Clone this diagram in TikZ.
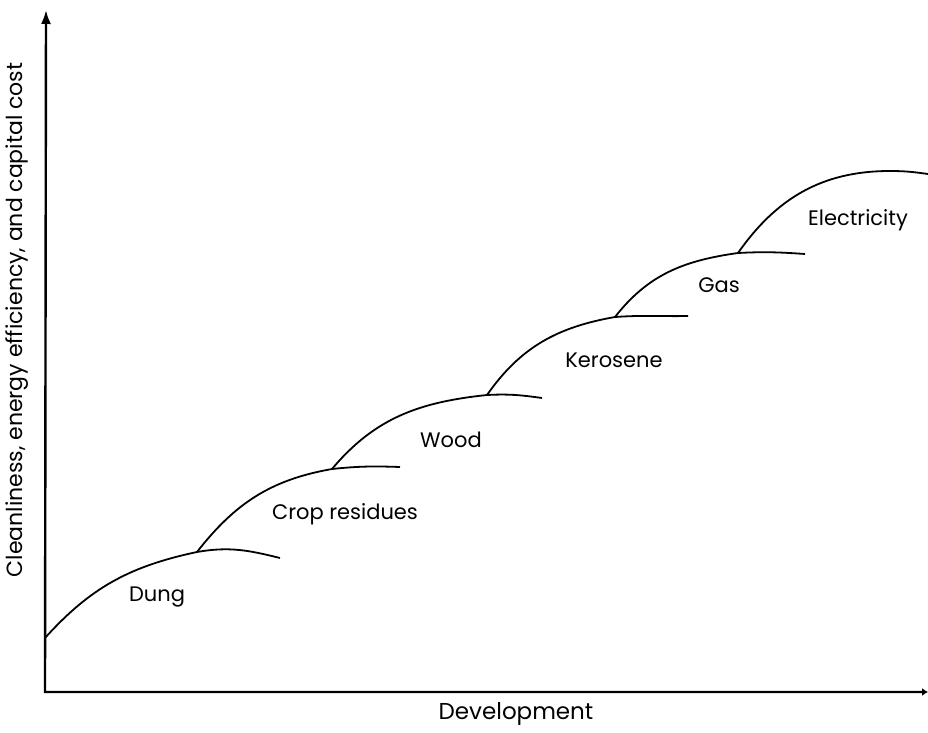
\documentclass[tikz,border=0pt]{standalone}
\usepackage{fontspec}
\setmainfont{Poppins}
\usetikzlibrary{arrows.meta}

\begin{document}
\begin{tikzpicture}[x=1pt, y=1pt, font=\fontsize{21}{25}\selectfont,
    axis/.style={line width=2.4pt, line join=miter},
    fuel/.style={line width=1.8pt}]
    \useasboundingbox (0,0) rectangle (928,732);

    % Axes
    \coordinate (origin) at (45,40);
    \coordinate (ytip) at (46,722);
    \coordinate (xtip) at (928,40);
    \draw[axis, {Latex[length=14pt,width=10pt]}-{Latex[length=6pt,width=8pt]}] (ytip) -- (origin) -- (xtip);

    % Axis labels
    \node [rotate=90, font=\fontsize{22}{26}\selectfont] (ylabel) at (17,412) {Cleanliness, energy efficiency, and capital cost};
    \node [font=\fontsize{23}{27}\selectfont] (xlabel) at (516,18) {Development};

    % Junctions where one fuel takes over from the last
    \coordinate (j0) at (45,94);
    \coordinate (j1) at (197,180);
    \coordinate (j2) at (332,263);
    \coordinate (j3) at (487,337);
    \coordinate (j4) at (615,415);
    \coordinate (j5) at (738,479);
    \coordinate (top) at (890,561);

    % Fuel curves
    \draw[fuel] (j0) to[out=48, in=192] (j1) to[out=10, in=166] (280,174);
    \draw[fuel] (j1) to[out=52, in=190] (j2) to[out=6, in=178] (400,265);
    \draw[fuel] (j2) to[out=50, in=186] (j3) to[out=3, in=172] (542,334);
    \draw[fuel] (j3) to[out=55, in=190] (j4) to[out=4, in=181] (688,416);
    \draw[fuel] (j4) to[out=52, in=188] (j5) to[out=3, in=176] (805,478);
    \draw[fuel] (j5) to[out=55, in=180] (top) to[out=0, in=172] (928,558);

    % Fuel labels
    \foreach \name/\txt/\x/\y in {dung/Dung/157/135, crop/Crop residues/345/218, wood/Wood/451/292,
        kero/Kerosene/614/372, gas/Gas/719/447, elec/Electricity/858/512} {
        \node (\name) at (\x,\y) {\txt};
    }
\end{tikzpicture}
\end{document}
